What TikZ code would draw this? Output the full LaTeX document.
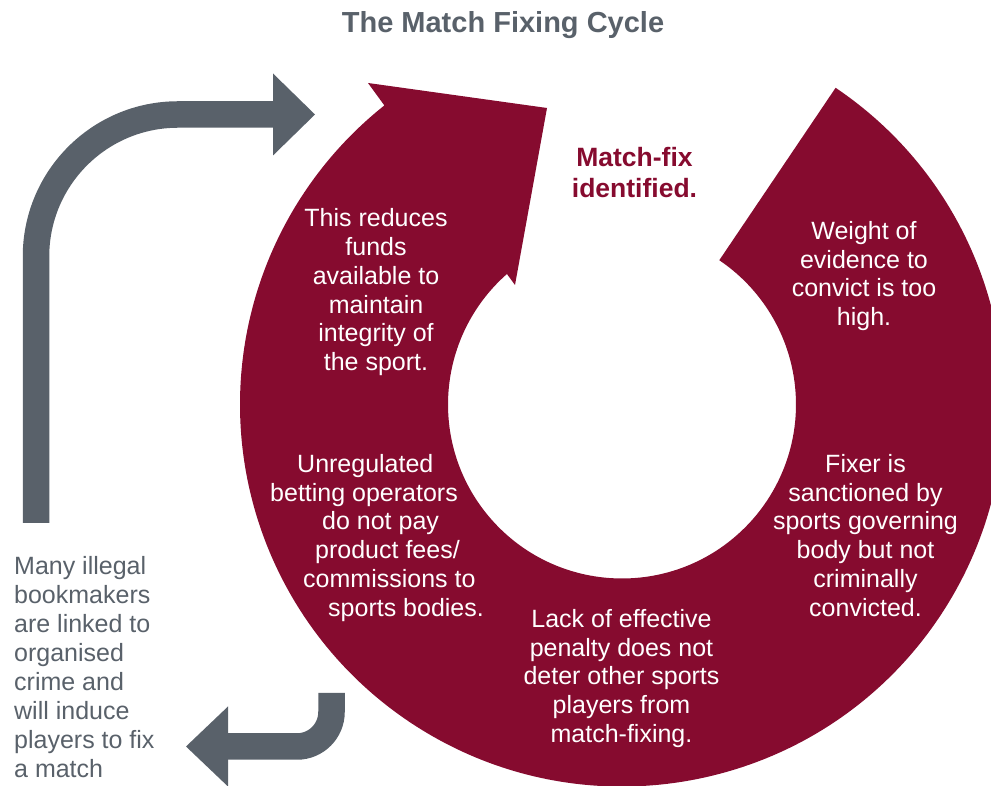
\documentclass[tikz,border=0pt]{standalone}
\usepackage{fontspec}
\setmainfont{Liberation Sans}
\definecolor{crim}{RGB}{134,11,47}
\definecolor{slate}{RGB}{89,97,106}
\begin{document}
\begin{tikzpicture}[x=1pt,y=1pt,
  wtext/.style={font=\fontsize{25}{28.8}\selectfont, text=white, align=center, inner sep=0pt},
  gtext/.style={font=\fontsize{25}{29}\selectfont, text=slate, align=left, inner sep=0pt},
  rtext/.style={font=\fontsize{26.5}{31}\selectfont\bfseries, text=crim, align=center, inner sep=0pt},
  ttext/.style={font=\fontsize{29}{34}\selectfont\bfseries, text=slate, inner sep=0pt},
  ring/.style={fill=crim},
  bend arrow/.style={draw=slate, line width=26.5pt},
  arrow head/.style={fill=slate}]
\useasboundingbox (0,0) rectangle (991,786);
% crimson cycle ring with arrowhead
\fill[ring] ([shift={(622,381.5)}]56:382) arc[start angle=56, end angle=-231.53, radius=382]
  -- (368,703) -- (547,678) -- (515,501)
  -- ([shift={(622,381.5)}]131.4:174) arc[start angle=-228.6, end angle=56, radius=174] -- cycle;
% big grey arrow
\draw[bend arrow] (36,263) -- (36,529.5) arc[start angle=180, end angle=90, radius=142] -- (274,671.5);
\fill[arrow head] (273,712.5) -- (315,671.5) -- (273,630.5) -- cycle;
% small grey arrow
\draw[bend arrow] (331.5,93) -- (331.5,74) arc[start angle=0, end angle=-90, radius=34.5] -- (227,39.5);
\fill[arrow head] (228,79.5) -- (186,39.5) -- (228,-0.5) -- cycle;
% texts
\node[ttext, anchor=base] (title) at (503,753.7) {The Match Fixing Cycle};
\node[rtext] (ident) at (634.5,610.5) {\strut Match-fix\\identified.\strut};
\node[wtext] (reduce) at (376,493) {\strut This reduces\\funds\\available to\\maintain\\integrity of\\the sport.\strut};
\node[wtext] (weight) at (864,509.3) {\strut Weight of\\evidence to\\convict is too\\high.\strut};
\node[wtext, align=left, anchor=west] (unreg) at (270,247.5) {\strut\hspace*{27pt}Unregulated\\betting operators\\\hspace*{52pt}do not pay\\\hspace*{45pt}product fees/\\\hspace*{33pt}commissions to\\\hspace*{58pt}sports bodies.\strut};
\node[wtext] (fixer) at (865.5,247.5) {\strut Fixer is\\sanctioned by\\sports governing\\body but not\\criminally\\convicted.\strut};
\node[wtext] (lack) at (621.5,106.9) {\strut Lack of effective\\penalty does not\\deter other sports\\players from\\match-fixing.\strut};
\node[gtext, anchor=west] (illegal) at (14,116) {\strut Many illegal\\bookmakers\\are linked to\\organised\\crime and\\will induce\\players to fix\\a match\strut};
\end{tikzpicture}
\end{document}
